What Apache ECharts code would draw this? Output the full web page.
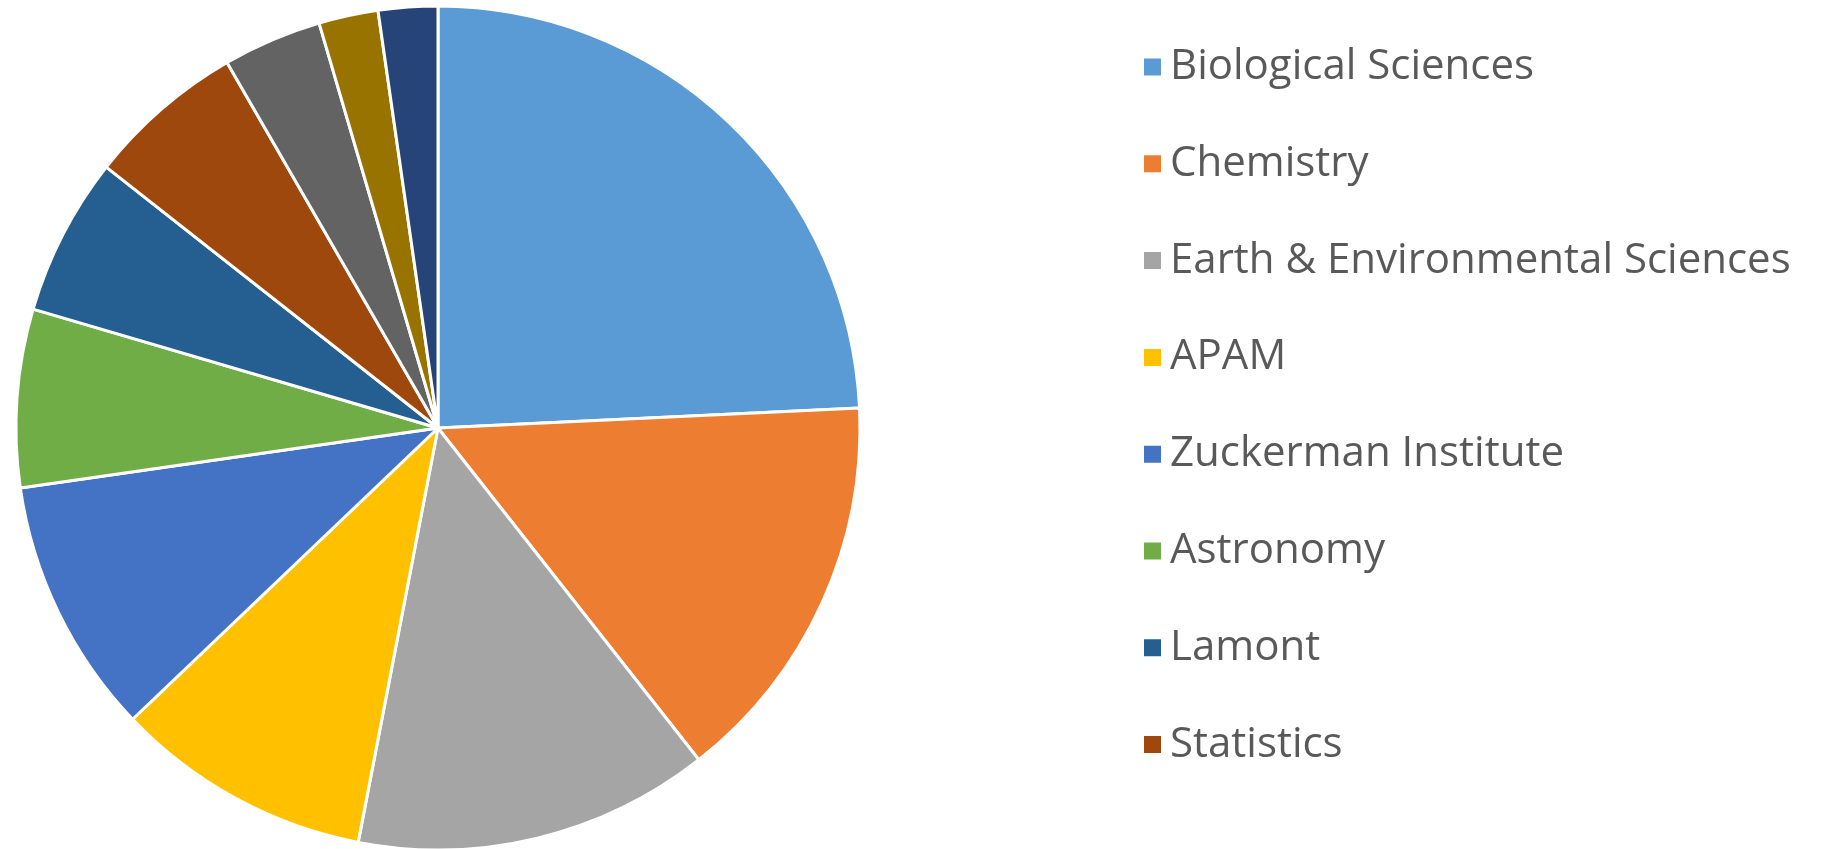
<!DOCTYPE html>
<html>
<head>
<meta charset="utf-8">
<script src="https://cdn.jsdelivr.net/npm/echarts@6/dist/echarts.min.js"></script>
<style>
  html, body { margin: 0; padding: 0; background: #fff; }
  #chart { width: 1825px; height: 849px; }
</style>
</head>
<body>
<div id="chart"></div>
<script>
// slices, clockwise from 12 o'clock
const departments = [
  "Biological Sciences",
  "Chemistry",
  "Earth & Environmental Sciences",
  "APAM",
  "Zuckerman Institute",
  "Astronomy",
  "Lamont",
  "Statistics",
  "Physics",
  "Mathematics",
  "Computer Science",
];
const counts = [32, 20, 18, 13, 13, 9, 8, 8, 5, 3, 3];
// only these show in the legend (the rest is cut off)
const legendNames = departments.slice(0, 8);

const colors = [
  "#5B9BD5", "#ED7D31", "#A5A5A5", "#FFC000", "#4472C4", "#70AD47",
  "#255E91", "#9E480E", "#636363", "#997300", "#264478",
];

const chart = echarts.init(document.getElementById("chart"));
const option = {
  color: colors,
  animation: false,
  legend: {
    data: legendNames,
    orient: "vertical",
    left: 1137,
    top: 38,
    icon: "rect",
    itemWidth: 19,
    itemHeight: 19,
    itemGap: 48.8,
    textStyle: {
      color: "#595959",
      fontFamily: "Open Sans",
      fontSize: 42,
      lineHeight: 48,
      padding: [0, 0, 0, 3],
    },
  },
  series: [
    {
      type: "pie",
      center: [438, 428],
      radius: 422,
      startAngle: 90,
      clockwise: true,
      label: { show: false },
      labelLine: { show: false },
      itemStyle: {
        borderColor: "#fff",
        borderWidth: 3,
      },
      data: departments.map((name, i) => ({ name: name, value: counts[i] })),
    },
  ],
};
chart.setOption(option);
</script>
</body>
</html>
